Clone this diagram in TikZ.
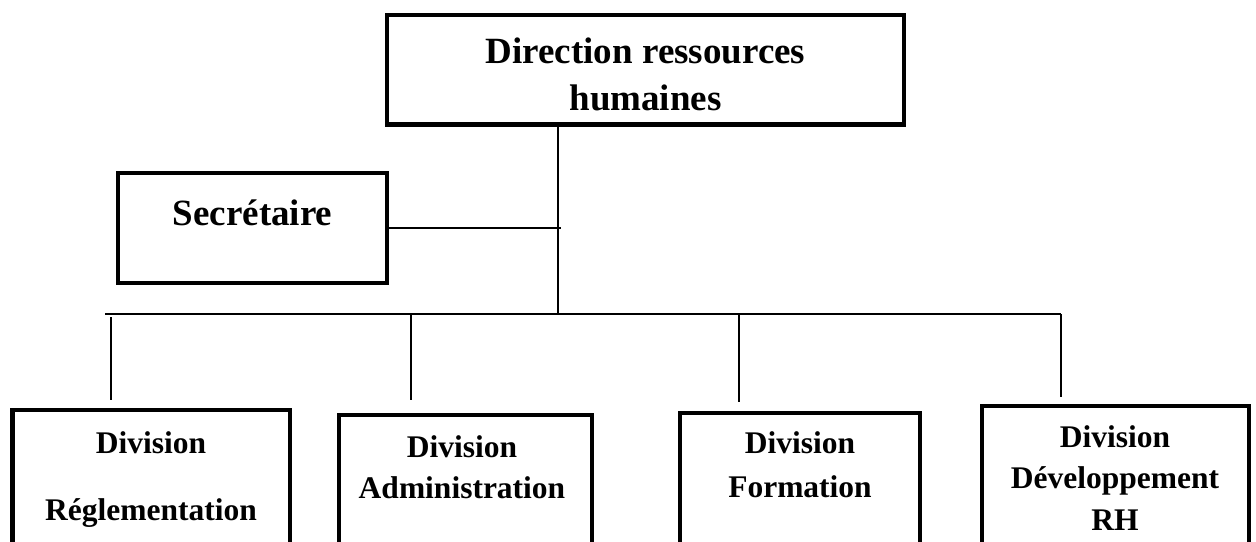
\documentclass[tikz,border=0pt]{standalone}
\usepackage{fontspec}
\setmainfont{Liberation Serif}
\begin{document}
\begin{tikzpicture}[x=1pt,y=-1pt,
  box/.style={draw,line width=4.6pt,rectangle,inner sep=0pt,minimum width=#1},
  link/.style={line width=1.8pt},
  bigtxt/.style={font=\fontsize{37}{47}\selectfont\bfseries,anchor=base,inner sep=0pt},
  smalltxt/.style={font=\fontsize{31.5}{42}\selectfont\bfseries,anchor=base,inner sep=0pt}]
\useasboundingbox (0,0) rectangle (1256,541);
\clip (0,0) rectangle (1256,541);
% boxes
\node[box=517pt,minimum height=109.5pt] (dir) at (645.5,69.75) {};
\node[box=269pt,minimum height=110pt] (sec) at (252.5,228) {};
\node[box=277.5pt,minimum height=300pt] (d1) at (151.25,560) {};
\node[box=253pt,minimum height=300pt] (d2) at (465.5,565) {};
\node[box=240pt,minimum height=300pt] (d3) at (800,563) {};
\node[box=267pt,minimum height=300pt] (d4) at (1115.5,556) {};
% texts
\node[bigtxt] (dirA) at (645.5,63) {Direction ressources};
\node[bigtxt] (dirB) at (645.5,110) {humaines};
\node[bigtxt] (secA) at (252.5,225) {Secrétaire};
\node[smalltxt] (d1A) at (151,453) {Division};
\node[smalltxt] (d1B) at (151,520) {Réglementation};
\node[smalltxt] (d2A) at (462,457) {Division};
\node[smalltxt] (d2B) at (462,498) {Administration};
\node[smalltxt] (d3A) at (800,453) {Division};
\node[smalltxt] (d3B) at (800,497) {Formation};
\node[smalltxt] (d4A) at (1115,447) {Division};
\node[smalltxt] (d4B) at (1115,488) {Développement};
\node[smalltxt] (d4C) at (1115,530) {RH};
% connector points
\coordinate (trunk) at (558,314);
\coordinate (barL) at (105,314);
\coordinate (barR) at (1061,314);
\coordinate (secend) at (561,228);
\coordinate (t1) at (111,317);
\coordinate (t2) at (411,314);
\coordinate (t3) at (739,314);
\coordinate (t4) at (1061,314);
% connectors
\draw[link] (dir.south -| trunk) -- (trunk);
\draw[link] (sec.east) -- (secend);
\draw[link] (barL) -- (barR);
\draw[link,shorten >=8pt] (t1) -- (t1 |- d1.north);
\draw[link,shorten >=13pt] (t2) -- (t2 |- d2.north);
\draw[link,shorten >=9pt] (t3) -- (t3 |- d3.north);
\draw[link,shorten >=7pt] (t4) -- (t4 |- d4.north);
\end{tikzpicture}
\end{document}
